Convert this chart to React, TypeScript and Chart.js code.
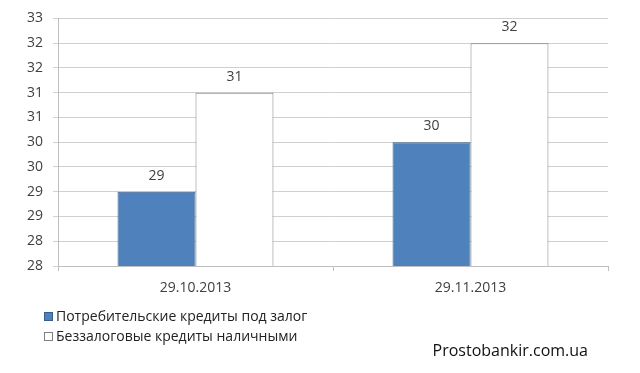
import React, { useEffect, useRef } from "react";
import { Chart, registerables } from "chart.js";

Chart.register(...registerables);

const categories = ["29.10.2013", "29.11.2013"];
const seriesNames = ["Потребительские кредиты под залог", "Беззалоговые кредиты наличными"];
const pledgeValues = [29.5, 30.5];
const unsecuredValues = [31.5, 32.5];
const yMin = 28;
const yMax = 33;
const yStep = 0.5;
const watermark = "Prostobankir.com.ua";

const FONT = "'Open Sans', 'Liberation Sans', sans-serif";
const TEXT = "#404040";

const labelsPlugin = {
  id: "barLabels",
  afterDatasetsDraw(chart: any) {
    const ctx = chart.ctx;
    ctx.save();
    ctx.font = `14px ${FONT}`;
    ctx.fillStyle = TEXT;
    ctx.textAlign = "center";
    ctx.textBaseline = "middle";
    chart.data.datasets.forEach((ds: any, i: number) => {
      const meta = chart.getDatasetMeta(i);
      meta.data.forEach((el: any, j: number) => {
        ctx.fillText(String(Math.floor(ds.data[j])), el.x, el.y - 16);
      });
    });
    ctx.restore();
  },
};

const legendPlugin = {
  id: "customLegend",
  afterDraw(chart: any) {
    const ctx = chart.ctx;
    ctx.save();
    ctx.font = `14px ${FONT}`;
    ctx.textBaseline = "middle";
    ctx.textAlign = "left";
    chart.data.datasets.forEach((ds: any, i: number) => {
      const y = 317 + i * 20;
      ctx.fillStyle = ds.backgroundColor;
      ctx.fillRect(44.5, y - 4.5, 8, 8);
      ctx.strokeStyle = ds.borderColor;
      ctx.lineWidth = 1;
      ctx.strokeRect(44.5, y - 4.5, 8, 8);
      ctx.fillStyle = "#222";
      ctx.fillText(ds.label, 56, y);
    });
    ctx.font = `16px ${FONT}`;
    ctx.fillStyle = "#111";
    ctx.textAlign = "right";
    ctx.fillText(watermark, 588, 351);
    ctx.restore();
  },
};

export default function App() {
  const ref = useRef<HTMLCanvasElement>(null);
  useEffect(() => {
    document.body.style.margin = "0";
    const chart = new Chart(ref.current as HTMLCanvasElement, {
      type: "bar",
      data: {
        labels: categories,
        datasets: [
          {
            label: seriesNames[0],
            data: pledgeValues,
            backgroundColor: "#4F81BD",
            borderColor: "#385D8A",
            borderWidth: 1,
          },
          {
            label: seriesNames[1],
            data: unsecuredValues,
            backgroundColor: "#FFFFFF",
            borderColor: "#7F7F7F",
            borderWidth: 1,
          },
        ],
      },
      options: {
        animation: false,
        responsive: false,
        layout: { padding: { left: 0, top: 17, right: 32, bottom: 77 } },
        plugins: {
          legend: { display: false },
          tooltip: { enabled: false },
        },
        datasets: {
          bar: { categoryPercentage: 0.567, barPercentage: 1 },
        },
        scales: {
          x: {
            offset: true,
            grid: {
              offset: true,
              drawOnChartArea: false,
              drawTicks: true,
              tickLength: 5,
              color: "#BFBFBF",
            },
            border: { color: "#BFBFBF" },
            ticks: { color: TEXT, font: { family: FONT, size: 14 }, padding: 9 },
            afterFit(scale: any) {
              scale.height = 30;
            },
          },
          y: {
            min: yMin,
            max: yMax,
            grid: { color: "#D0D0D0", tickLength: 5 },
            border: { color: "#BFBFBF" },
            ticks: {
              stepSize: yStep,
              color: TEXT,
              font: { family: FONT, size: 14 },
              padding: 10,
              callback: (v: any) => String(Math.floor(Number(v))),
            },
            afterFit(scale: any) {
              scale.width = 58;
            },
          },
        },
      },
      plugins: [labelsPlugin, legendPlugin],
    });
    return () => chart.destroy();
  }, []);
  return (
    <div style={{ width: 640, height: 373, background: "#fff" }}>
      <canvas ref={ref} width={640} height={373} />
    </div>
  );
}
